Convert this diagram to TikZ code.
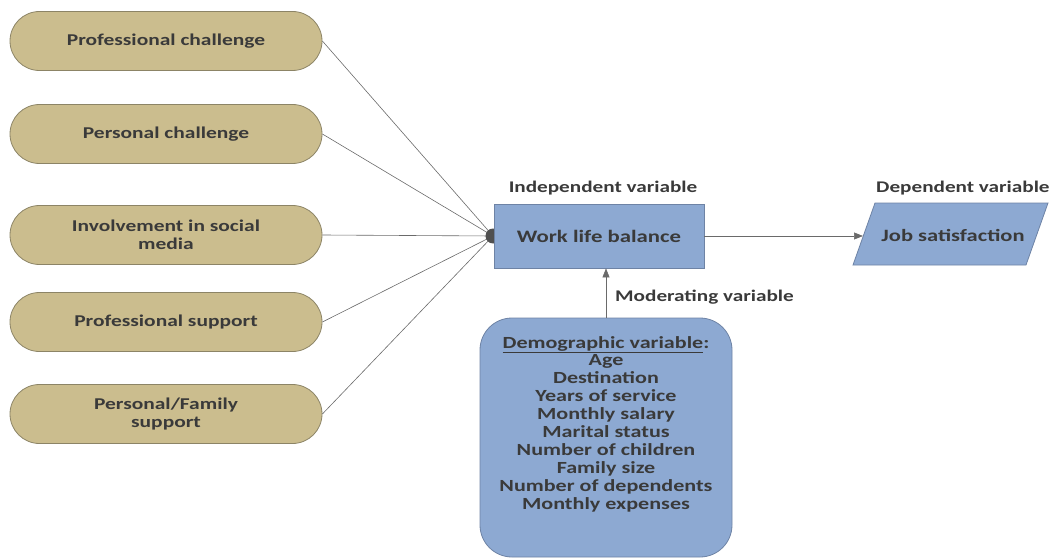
\documentclass[tikz,border=0pt]{standalone}
\usepackage{fontspec}
\setmainfont{Carlito}[FakeStretch=1.3]
\usetikzlibrary{shapes.misc,arrows.meta}
\definecolor{tan}{HTML}{CBBD8E}
\definecolor{tanline}{HTML}{8C8466}
\definecolor{bluefill}{HTML}{8DA9D2}
\definecolor{blueline}{HTML}{6E83A5}
\definecolor{txt}{HTML}{3A3A3A}
\definecolor{conn}{HTML}{6A6A6A}
\tikzset{
  pill/.style={rounded rectangle, draw=tanline, fill=tan, line width=0.8pt,
    minimum width=312pt, minimum height=59pt, inner sep=0pt,
    font=\bfseries\fontsize{16.5}{18}\selectfont, text=txt, align=center},
  bluebox/.style={draw=blueline, fill=bluefill, line width=0.8pt, text=txt,
    font=\bfseries\fontsize{17.5}{20}\selectfont},
  lbl/.style={font=\bfseries\fontsize{16.3}{18}\selectfont, text=txt, inner sep=0pt},
  conline/.style={draw=conn, line width=0.6pt},
  arr/.style={conline, -{Triangle[length=9pt,width=7pt]}}
}
\begin{document}
\begin{tikzpicture}[x=1pt,y=-1pt]
\useasboundingbox (0,0) rectangle (1050,559);
\node[pill] (p1) at (166,41) {Professional challenge};
\node[pill] (p2) at (166,134) {Personal challenge};
\node[pill] (p3) at (166,235) {Involvement in social\\media};
\node[pill] (p4) at (166,322) {Professional support};
\node[pill] (p5) at (166,414) {Personal/Family\\support};
\coordinate (hub) at (493,236);
\foreach \p in {p1,p2,p3,p4,p5} \draw[conline] (\p.east) -- (hub);
\fill[conn!75!black] (hub) circle (7.5pt);
\node[bluebox, minimum width=210pt, minimum height=64pt, inner sep=0pt] (wlb) at (599,236) {Work life balance};
\node[lbl] (iv) at (603,188) {Independent variable};
\draw[draw=blueline, fill=bluefill, line width=0.8pt] (853,265) -- (875,203) -- (1048,203) -- (1026,265) -- cycle;
\node[text=txt, inner sep=0pt, font=\bfseries\fontsize{17.3}{20}\selectfont] (js) at (953,235) {Job satisfaction};
\coordinate (jsl) at (863,236);
\node[lbl, anchor=west] (dv) at (876,188) {Dependent variable};
\draw[arr] (wlb.east) -- (jsl);
\draw[bluebox, rounded corners=32pt] (480,318) rectangle (732,557);
\coordinate (demtop) at (606,318);
\node[align=center, text=txt, inner sep=0pt,
  font=\bfseries\fontsize{17}{17.9}\selectfont] (dem) at (606,424)
  {\underline{Demographic variable}:\\Age\\Destination\\Years of service\\Monthly salary\\Marital status\\Number of children\\Family size\\Number of dependents\\Monthly expenses};
\draw[arr] (demtop) -- (demtop |- wlb.south);
\node[lbl, anchor=west] (mv) at (615,297) {Moderating variable};
\end{tikzpicture}
\end{document}
